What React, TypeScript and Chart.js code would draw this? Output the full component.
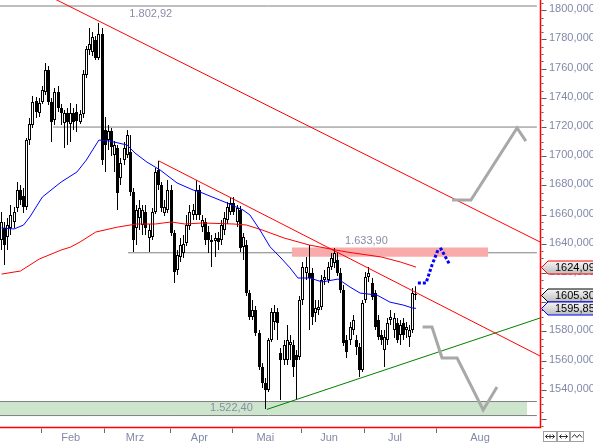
import React, { useEffect, useRef } from "react";
import { Chart, registerables } from "chart.js";

Chart.register(...registerables);

// ---- candles (trading-day index 0..132) ----
const openP = [
  1642.6, 1650.9, 1644.7, 1650.9, 1655.0, 1664.5, 1676.9, 1672.8, 1665.2, 1711.1,
  1721.4, 1737.8, 1729.6, 1737.2, 1744.0, 1759.1, 1737.2, 1724.8, 1744.0, 1733.0,
  1722.8, 1729.6, 1722.1, 1729.6, 1730.3, 1723.5, 1728.9, 1755.7, 1772.8, 1771.4,
  1779.6, 1767.3, 1783.7, 1718.0, 1711.1, 1717.3, 1700.9, 1705.6, 1685.1, 1697.4,
  1700.9, 1702.9, 1675.5, 1650.9, 1657.7, 1652.9, 1661.8, 1644.0, 1644.7, 1661.8,
  1690.6, 1680.3, 1661.1, 1663.2, 1676.9, 1647.4, 1622.1, 1631.0, 1633.7, 1640.6,
  1652.2, 1659.8, 1659.8, 1676.9, 1651.5, 1655.0, 1648.1, 1642.6, 1641.9, 1644.0,
  1642.6, 1649.5, 1656.3, 1661.8, 1668.0, 1655.0, 1663.2, 1637.8, 1639.2, 1606.3,
  1589.9, 1594.7, 1578.9, 1555.6, 1544.7, 1539.9, 1574.1, 1586.5, 1593.3, 1565.2,
  1560.4, 1560.4, 1570.7, 1570.7, 1563.9, 1562.5, 1601.5, 1620.0, 1620.0, 1620.0,
  1592.6, 1594.7, 1596.7, 1615.2, 1615.2, 1624.1, 1626.9, 1628.9, 1620.0, 1608.4,
  1574.1, 1574.1, 1581.0, 1574.1, 1569.3, 1553.6, 1601.5, 1617.3, 1613.2, 1606.3,
  1587.8, 1577.6, 1567.3, 1574.1, 1587.8, 1581.0, 1585.8, 1577.6, 1585.8, 1581.0,
  1576.2, 1581.0, 1604.9,
];
const highP = [
  1661.8, 1655.0, 1657.7, 1666.6, 1665.2, 1682.4, 1680.3, 1678.3, 1712.5, 1726.2,
  1741.3, 1740.6, 1739.9, 1748.1, 1763.9, 1761.8, 1739.9, 1746.8, 1748.1, 1735.8,
  1731.7, 1733.0, 1736.5, 1733.0, 1735.8, 1731.7, 1759.1, 1775.5, 1787.8, 1785.1,
  1782.4, 1791.3, 1787.8, 1726.9, 1721.4, 1719.3, 1710.4, 1707.7, 1698.8, 1709.8,
  1718.0, 1714.6, 1678.3, 1666.6, 1670.0, 1666.6, 1666.6, 1653.6, 1664.5, 1691.9,
  1696.7, 1682.4, 1670.0, 1683.7, 1680.3, 1649.5, 1635.8, 1644.0, 1646.0, 1659.8,
  1666.6, 1667.3, 1683.7, 1680.3, 1659.8, 1657.7, 1652.2, 1646.0, 1647.4, 1648.1,
  1656.3, 1661.8, 1668.6, 1671.4, 1672.1, 1666.6, 1665.9, 1647.4, 1642.6, 1608.4,
  1601.5, 1597.4, 1581.0, 1558.4, 1548.1, 1575.5, 1596.0, 1598.1, 1596.0, 1568.6,
  1574.1, 1584.4, 1577.6, 1574.1, 1567.3, 1604.3, 1627.6, 1631.0, 1639.2, 1623.4,
  1601.5, 1601.5, 1618.7, 1622.1, 1627.6, 1633.7, 1637.2, 1634.4, 1623.4, 1611.8,
  1577.6, 1586.5, 1591.3, 1577.6, 1572.1, 1601.5, 1620.7, 1624.1, 1616.6, 1608.4,
  1591.3, 1581.0, 1581.0, 1589.2, 1594.7, 1592.6, 1589.2, 1587.8, 1589.2, 1586.5,
  1584.4, 1609.8, 1611.0,
];
const lowP = [
  1635.8, 1625.5, 1635.8, 1646.0, 1650.9, 1661.8, 1666.6, 1661.1, 1663.2, 1707.7,
  1719.3, 1726.2, 1726.9, 1735.8, 1741.9, 1735.1, 1709.8, 1721.4, 1730.3, 1721.4,
  1705.6, 1707.7, 1709.8, 1718.0, 1716.6, 1722.1, 1726.2, 1753.6, 1769.4, 1768.7,
  1765.9, 1765.9, 1694.0, 1689.2, 1704.3, 1700.2, 1689.2, 1663.2, 1680.3, 1694.0,
  1698.8, 1672.8, 1634.4, 1639.2, 1649.5, 1646.0, 1646.0, 1634.4, 1642.6, 1660.4,
  1676.9, 1661.8, 1659.1, 1661.1, 1645.4, 1613.2, 1618.7, 1627.6, 1630.3, 1638.5,
  1649.5, 1656.3, 1656.3, 1656.3, 1648.1, 1639.2, 1633.7, 1624.1, 1631.0, 1635.8,
  1639.2, 1646.0, 1653.6, 1659.8, 1659.8, 1651.5, 1634.4, 1628.9, 1604.3, 1587.8,
  1587.8, 1576.9, 1553.6, 1541.3, 1526.9, 1538.5, 1572.8, 1581.0, 1574.1, 1533.0,
  1557.0, 1557.0, 1560.4, 1548.8, 1533.0, 1560.4, 1598.1, 1615.2, 1581.0, 1584.4,
  1586.5, 1591.3, 1594.7, 1611.8, 1613.2, 1622.1, 1623.4, 1618.0, 1606.3, 1570.0,
  1561.8, 1570.7, 1577.6, 1563.9, 1548.8, 1552.2, 1599.5, 1613.9, 1601.5, 1581.0,
  1574.1, 1570.7, 1555.6, 1570.7, 1584.4, 1575.5, 1572.1, 1570.7, 1574.1, 1575.5,
  1569.3, 1578.9, 1601.5,
];
const closeP = [
  1655.0, 1639.2, 1652.9, 1659.8, 1661.8, 1676.9, 1670.0, 1665.2, 1711.1, 1722.1,
  1737.2, 1730.3, 1736.5, 1745.4, 1759.1, 1737.2, 1723.5, 1744.0, 1733.0, 1729.6,
  1729.6, 1723.5, 1729.6, 1723.5, 1724.1, 1728.9, 1756.3, 1773.5, 1776.9, 1781.7,
  1767.3, 1783.7, 1697.4, 1707.7, 1717.3, 1706.3, 1707.7, 1674.8, 1695.4, 1705.6,
  1714.6, 1675.5, 1642.6, 1663.2, 1664.5, 1663.2, 1650.9, 1649.5, 1661.8, 1689.2,
  1680.3, 1664.5, 1665.2, 1676.9, 1647.4, 1620.7, 1632.4, 1639.2, 1639.9, 1652.9,
  1661.8, 1663.2, 1676.9, 1659.8, 1656.3, 1642.6, 1642.6, 1641.3, 1644.0, 1641.3,
  1652.9, 1657.7, 1665.2, 1668.0, 1661.8, 1664.5, 1637.2, 1644.7, 1606.3, 1589.9,
  1594.7, 1578.9, 1555.6, 1544.7, 1539.9, 1574.1, 1593.3, 1593.3, 1585.8, 1560.4,
  1570.7, 1574.1, 1572.8, 1555.6, 1560.4, 1601.5, 1624.1, 1624.1, 1616.6, 1589.9,
  1596.0, 1596.7, 1615.2, 1617.3, 1624.1, 1630.3, 1633.7, 1620.0, 1608.4, 1572.1,
  1565.9, 1583.0, 1587.8, 1569.3, 1553.6, 1599.5, 1617.3, 1620.0, 1603.6, 1583.0,
  1576.2, 1574.1, 1576.2, 1585.8, 1589.9, 1589.2, 1574.1, 1584.4, 1577.6, 1583.0,
  1581.0, 1606.3, 1605.3,
];

// ---- moving averages (knots) ----
const blueMaIdx = [0, 4, 7, 9, 13, 19, 24, 27, 29, 31, 34.5, 40, 42.5, 46.3, 50.5, 55.9, 61, 63.2, 71.8, 76.9, 79.1, 82.3, 85.5, 88.7, 91.9, 94.4, 98.2, 102.1, 107.2, 111, 114.2, 119.6, 123.7, 127.9, 131, 132];
const blueMaVal = [1650.9, 1650.2, 1652.9, 1658.4, 1672.1, 1682.4, 1689.2, 1697.4, 1704.3, 1711.1, 1710.4, 1707.7, 1702.2, 1696.0, 1690.6, 1681.7, 1676.9, 1675.5, 1668.0, 1663.2, 1659.8, 1649.5, 1638.0, 1631.0, 1623.5, 1616.6, 1616.6, 1613.9, 1615.9, 1610.4, 1606.3, 1604.9, 1600.1, 1598.1, 1596.0, 1595.85];
const redMaIdx = [0, 6, 12, 19, 22, 25, 30, 37, 43, 49, 54, 58.4, 64, 74, 78, 83, 90, 98, 110, 121, 127, 132];
const redMaVal = [1619.3, 1621.4, 1629.6, 1635.8, 1637.8, 1641.3, 1648.1, 1651.5, 1653.6, 1653.6, 1655.0, 1653.6, 1654.3, 1653.6, 1652.9, 1649.5, 1644.0, 1639.2, 1634.4, 1631.0, 1627.6, 1624.09];

// ---- trend lines ----
const trendAIdx = [14, 171.5];
const trendAVal = [1810.9, 1641.3];
const trendBIdx = [50, 171.5];
const trendBVal = [1696.9, 1563.2];
const supportIdx = [84.5, 171.5];
const supportVal = [1526.6, 1589.2];

// ---- horizontal levels and zones ----
const levelVal = [1802.92, 1720.0, 1633.9, 1532.0, 1522.4];
const levelStartIdx = [-0.5, 16.4, 40.3, -0.5, -0.5];
const levelEndIdx = [170.5, 170.5, 170.5, 170.5, 170.5];
const greenZone = [1532.0, 1522.4];
const greenZoneIdx = [-0.5, 167.4];
const redZone = [1637.5, 1631.2];
const redZoneIdx = [92.5, 155];
const levelLabelText = ["1.802,92", "1.633,90", "1.522,40"];
const levelLabelVal = [1802.92, 1633.9, 1522.4];
const levelLabelIdx = [40.7, 109.4, 66.4];

// ---- projections ----
const greyUpIdx = [143.5, 149.5, 164.2, 167.0];
const greyUpVal = [1670.0, 1670.0, 1719.4, 1710.4];
const greyDownIdx = [134.1, 137.1, 140.3, 145.1, 153.4, 157.8];
const greyDownVal = [1583.0, 1583.0, 1561.8, 1561.8, 1526.2, 1541.9];
const blueProjIdx = [132.6, 135.2, 137.1, 139.0, 140.0, 142.8];
const blueProjVal = [1613.2, 1613.2, 1625.5, 1635.8, 1636.5, 1625.5];

// ---- axes ----
const yTickVals = [1540, 1560, 1580, 1600, 1620, 1640, 1660, 1680, 1700, 1720, 1740, 1760, 1780, 1800];
const yTickLabels = ["1540,000", "1560,000", "1580,000", "1600,000", "1620,000", "1640,000", "1660,000", "1680,000", "1700,000", "1720,000", "1740,000", "1760,000", "1780,000", "1800,000"];
const monthStartIdx = [12.5, 32.5, 53.5, 73.5, 95.5, 115.5, 138.5];
const monthLabels = ["Feb", "Mrz", "Apr", "Mai", "Jun", "Jul", "Aug"];
const monthLabelIdx = [22, 42.5, 63, 84, 104.3, 125.3, 152.4];

// ---- value tags on the price axis ----
const tagVals = [1624.09, 1605.3, 1595.85];
const tagTexts = ["1624,09", "1605,30", "1595,85"];
const tagColors = ["#ff0000", "#000000", "#0000ff"];

const FONT = '11px "Liberation Sans", Arial, sans-serif';
const AXIS_TEXT = "#8189a8";

const pts = (xs: number[], ys: number[]) => xs.map((x, i) => ({ x, y: ys[i] }));

function lineDs(data: any[], color: string, width: number, order: number, extra: any = {}) {
  return {
    type: "line",
    data,
    borderColor: color,
    borderWidth: width,
    pointRadius: 0,
    pointHoverRadius: 0,
    fill: false,
    tension: 0,
    order,
    ...extra,
  };
}

const overlay = {
  id: "overlay",
  afterDatasetsUpdate(chart: any) {
    // snap candle elements to the pixel grid so they render crisp
    chart.data.datasets.forEach((ds: any, i: number) => {
      if (ds.type !== "bar") return;
      const meta = chart.getDatasetMeta(i);
      meta.data.forEach((el: any) => {
        el.x = Math.floor(el.x) + 0.5;
      });
    });
  },
  beforeDraw(chart: any) {
    const ctx = chart.ctx;
    ctx.save();
    ctx.fillStyle = "#ffffff";
    ctx.fillRect(0, 0, chart.width, chart.height);
    ctx.restore();
  },
  afterDatasetsDraw(chart: any) {
    const ctx = chart.ctx;
    const xs = chart.scales.x;
    const ys = chart.scales.y;
    const offs = [7.5, -11.8, -7.2];
    ctx.save();
    ctx.font = FONT;
    ctx.fillStyle = "#8a8ca6";
    ctx.textBaseline = "middle";
    ctx.textAlign = "left";
    levelLabelText.forEach((t, i) => {
      ctx.fillText(t, xs.getPixelForValue(levelLabelIdx[i]), ys.getPixelForValue(levelLabelVal[i]) + offs[i]);
    });
    ctx.restore();
  },
  afterDraw(chart: any) {
    const ctx = chart.ctx;
    const xs = chart.scales.x;
    const ys = chart.scales.y;
    const a = chart.chartArea;
    ctx.save();
    // axis frame lines
    ctx.strokeStyle = "#ff0000";
    ctx.lineWidth = 1.5;
    ctx.beginPath();
    ctx.moveTo(a.right + 0.5, 0);
    ctx.lineTo(a.right + 0.5, a.bottom + 0.5);
    ctx.lineTo(0, a.bottom + 0.5);
    ctx.stroke();
    // y ticks
    ctx.strokeStyle = "#5a5a5a";
    ctx.lineWidth = 1;
    for (let v = 1515; v <= 1805; v += 5) {
      const y = Math.round(ys.getPixelForValue(v)) + 0.5;
      const major = v % 20 === 0;
      ctx.beginPath();
      ctx.moveTo(a.right + 1.5, y);
      ctx.lineTo(a.right + (major ? 6.5 : 3.5), y);
      ctx.stroke();
    }
    ctx.font = FONT;
    ctx.fillStyle = AXIS_TEXT;
    ctx.textBaseline = "middle";
    ctx.textAlign = "left";
    yTickVals.forEach((v, i) => {
      ctx.fillText(yTickLabels[i], a.right + 9, ys.getPixelForValue(v) - 1);
    });
    // x ticks and month labels
    ctx.strokeStyle = "#6a6a6a";
    monthStartIdx.forEach((m) => {
      const x = Math.round(xs.getPixelForValue(m)) + 0.5;
      ctx.beginPath();
      ctx.moveTo(x, a.bottom + 1.5);
      ctx.lineTo(x, a.bottom + 6);
      ctx.stroke();
    });
    ctx.textAlign = "center";
    monthLabels.forEach((t, i) => {
      ctx.fillText(t, xs.getPixelForValue(monthLabelIdx[i]), a.bottom + 11);
    });
    // value tags
    tagVals.forEach((v, i) => {
      const cy = Math.round(ys.getPixelForValue(v)) + 0.5;
      const tip = a.right + 1.5;
      const bx = a.right + 8;
      const top = cy - 6.5;
      const bot = cy + 6.5;
      const g = ctx.createLinearGradient(0, top, 0, bot);
      g.addColorStop(0, "#f6f6f6");
      g.addColorStop(1, "#bdbdbd");
      ctx.beginPath();
      ctx.moveTo(tip, cy);
      ctx.lineTo(bx, top);
      ctx.lineTo(chart.width + 10, top);
      ctx.lineTo(chart.width + 10, bot);
      ctx.lineTo(bx, bot);
      ctx.closePath();
      ctx.fillStyle = g;
      ctx.fill();
      ctx.strokeStyle = tagColors[i];
      ctx.lineWidth = 1;
      ctx.stroke();
      ctx.fillStyle = "#000000";
      ctx.textAlign = "left";
      ctx.textBaseline = "middle";
      ctx.fillText(tagTexts[i], a.right + 15, cy + 0.5);
    });
    // small navigation icons bottom right
    const boxes = [[543.5, 13], [557.5, 12], [570.5, 13]];
    ctx.lineWidth = 1;
    boxes.forEach(([bx, w], i) => {
      ctx.fillStyle = "#ffffff";
      ctx.fillRect(bx, 431.5, w, 10);
      ctx.strokeStyle = "#a0a0a0";
      ctx.strokeRect(bx, 431.5, w, 10);
      ctx.strokeStyle = "#303030";
      ctx.beginPath();
      const cy = 436.5;
      if (i < 2) {
        ctx.moveTo(bx + 2, cy);
        ctx.lineTo(bx + w - 2, cy);
        ctx.moveTo(bx + 4, cy - 2);
        ctx.lineTo(bx + 2, cy);
        ctx.lineTo(bx + 4, cy + 2);
        ctx.moveTo(bx + w - 4, cy - 2);
        ctx.lineTo(bx + w - 2, cy);
        ctx.lineTo(bx + w - 4, cy + 2);
        if (i === 0) {
          ctx.moveTo(bx + w / 2, cy - 2);
          ctx.lineTo(bx + w / 2, cy + 2);
        }
      } else {
        ctx.moveTo(bx + 1.5, cy + 1);
        ctx.lineTo(bx + 4, cy - 2);
        ctx.lineTo(bx + 6.5, cy + 1);
        ctx.lineTo(bx + 9, cy - 2);
        ctx.lineTo(bx + 11.5, cy + 1);
      }
      ctx.stroke();
    });
    ctx.restore();
  },
};

export default function App() {
  const ref = useRef<HTMLCanvasElement | null>(null);

  useEffect(() => {
    document.body.style.margin = "0";
    const canvas = ref.current;
    if (!canvas) return;

    const bodies = openP.map((o, i) => ({ x: i, y: [o, closeP[i]] }));
    const wicks = lowP.map((l, i) => ({ x: i, y: [l, highP[i]] }));
    const bodyFill = openP.map((o, i) => (closeP[i] >= o ? "#ffffff" : "#000000"));

    const datasets: any[] = [];
    // green zone fill
    datasets.push(
      lineDs(pts(greenZoneIdx, [greenZone[0], greenZone[0]]), "rgba(0,0,0,0)", 0, 30, {
        fill: { value: greenZone[1] },
        backgroundColor: "#cde5cd",
      })
    );
    // grey level lines
    levelVal.forEach((v, i) => {
      datasets.push(lineDs(pts([levelStartIdx[i], levelEndIdx[i]], [v, v]), "#7f7f7f", 1, 29));
    });
    // red zone
    datasets.push(
      lineDs(pts(redZoneIdx, [redZone[0], redZone[0]]), "rgba(0,0,0,0)", 0, 28, {
        fill: { value: redZone[1] },
        backgroundColor: "#f9aaaa",
      })
    );
    // wicks and bodies
    datasets.push({
      type: "bar",
      data: wicks,
      backgroundColor: "#000000",
      borderWidth: 0,
      barThickness: 1,
      inflateAmount: 0,
      grouped: false,
      order: 27,
    });
    datasets.push({
      type: "bar",
      data: bodies,
      backgroundColor: bodyFill,
      borderColor: "#000000",
      borderWidth: 1,
      borderSkipped: false,
      barThickness: 3,
      minBarLength: 1,
      inflateAmount: 0,
      grouped: false,
      order: 26,
    });
    // moving averages
    datasets.push(lineDs(pts(redMaIdx, redMaVal), "#ff0000", 1, 25));
    datasets.push(lineDs(pts(blueMaIdx, blueMaVal), "#0000ff", 1, 24));
    // trend lines
    datasets.push(lineDs(pts(trendAIdx, trendAVal), "#ff0000", 1, 23));
    datasets.push(lineDs(pts(trendBIdx, trendBVal), "#ff0000", 1, 23));
    datasets.push(lineDs(pts(supportIdx, supportVal), "#008000", 1, 23));
    // projections
    datasets.push(lineDs(pts(greyUpIdx, greyUpVal), "#a8a8a8", 3, 22, { borderJoinStyle: "miter" }));
    datasets.push(lineDs(pts(greyDownIdx, greyDownVal), "#a8a8a8", 3, 22, { borderJoinStyle: "miter" }));
    datasets.push(
      lineDs(pts(blueProjIdx, blueProjVal), "#0000ff", 3, 21, { borderDash: [3, 2], borderCapStyle: "butt" })
    );

    const chart = new Chart(canvas, {
      type: "bar",
      data: { datasets },
      options: {
        responsive: false,
        maintainAspectRatio: false,
        devicePixelRatio: 1,
        animation: false,
        events: [],
        layout: { padding: { left: 0, right: 53, top: 0, bottom: 18 } },
        plugins: { legend: { display: false }, tooltip: { enabled: false } },
        scales: {
          x: { type: "linear", min: -0.5, max: 171.5, display: false, offset: false },
          y: { type: "linear", min: 1514.56, max: 1807.03, display: false, beginAtZero: false },
        },
      } as any,
      plugins: [overlay],
    } as any);

    return () => chart.destroy();
  }, []);

  return (
    <div style={{ width: 593, height: 445, overflow: "hidden" }}>
      <canvas ref={ref} width={593} height={445} style={{ display: "block" }} />
    </div>
  );
}
